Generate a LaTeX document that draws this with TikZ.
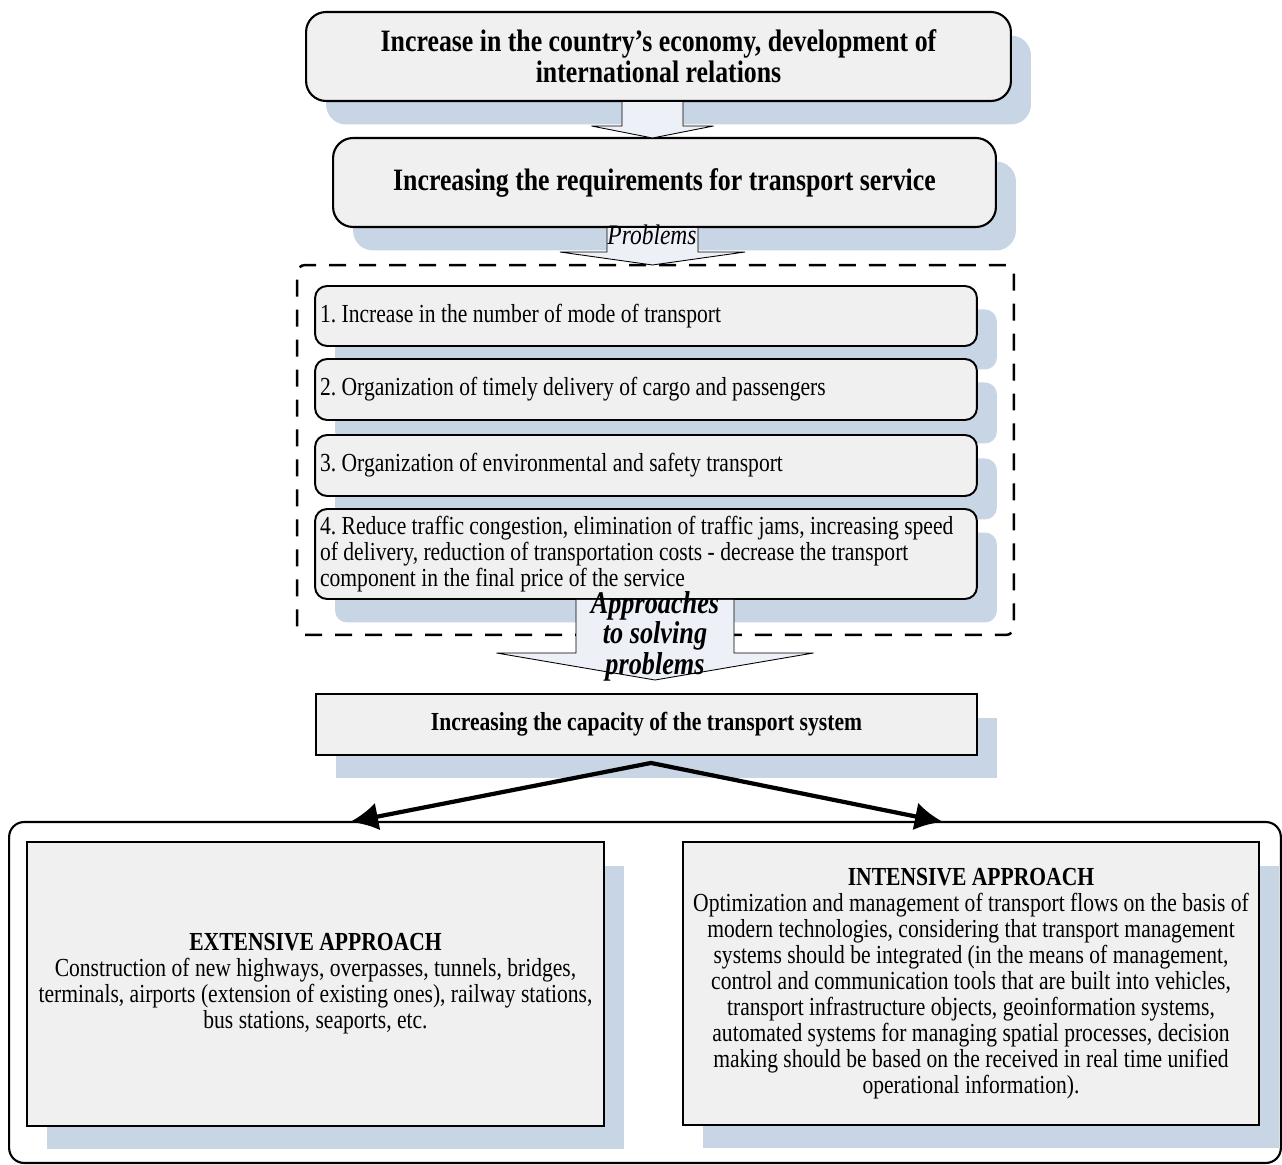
\documentclass[tikz,border=0pt]{standalone}
\usepackage{fontspec}
\setmainfont{Liberation Serif}[FakeStretch=0.83]
\usetikzlibrary{arrows.meta,shadows}

\definecolor{boxfill}{RGB}{240,240,240}
\definecolor{shade}{RGB}{200,213,229}
\definecolor{arrowfill}{RGB}{237,241,247}

\newcommand{\normtext}{\fontsize{14.8}{14.8}\selectfont\frenchspacing}
\newcommand{\titletext}{\fontsize{17.7}{17.6}\selectfont\bfseries}

\begin{document}
\begin{tikzpicture}[x=0.02cm, y=-0.02cm,
	shadowed/.style={drop shadow={shadow xshift=0.4cm, shadow yshift=-0.47cm, fill=shade, opacity=1}},
	roundbox/.style={draw, line width=1.2pt, fill=boxfill, rounded corners=0.4cm, shadowed, align=center, font=\titletext},
	itembox/.style={draw, line width=1.1pt, fill=boxfill, rounded corners=0.24cm, shadowed, text width=13.04cm, inner sep=0.1cm, align=flush left, font=\normtext},
	flatbox/.style={draw, line width=1.1pt, fill=boxfill, shadowed, align=center, font=\normtext},
	blockarrow/.style={draw, line width=0.5pt, fill=arrowfill, line join=miter},
	bigarrow/.style={{Latex[length=0.56cm,width=0.56cm]}-{Latex[length=0.56cm,width=0.56cm]}, line width=2.4pt}
]

% Just a workaround to keep the page as large as the original
\useasboundingbox (0,0) rectangle (1282,1165);

% Top boxes
\node[roundbox, minimum width=14.1cm, minimum height=1.78cm]
	(econ) at (658.5,56.5) {Increase in the country's economy, development of\\international relations};
\node[roundbox, minimum width=13.26cm, minimum height=1.78cm]
	(req) at (664.5,182.5) {Increasing the requirements for transport service};

% Problems
\node[draw, line width=1.4pt, dash pattern=on 0.34cm off 0.26cm, rounded corners=0.16cm,
	minimum width=14.34cm, minimum height=7.4cm] (probs) at (655.5,450) {};

\newcommand{\pbox}[4]{
	\node[itembox, minimum height=#3] (#1) at (646,#2) {#4};
}
\pbox {p1} {316}   {1.2cm}  {1. Increase in the number of mode of transport}
\pbox {p2} {389.5} {1.22cm} {2. Organization of timely delivery of cargo and passengers}
\pbox {p3} {465.5} {1.22cm} {3. Organization of environmental and safety transport}
\pbox {p4} {554}   {1.8cm}  {4. Reduce traffic congestion, elimination of traffic jams, increasing speed\\of delivery, reduction of transportation costs - decrease the transport\\component in the final price of the service}

% Capacity and the two approaches
\node[flatbox, font=\normtext\bfseries, minimum width=13.22cm, minimum height=1.22cm]
	(cap) at (646.5,724.5) {Increasing the capacity of the transport system};

\node[draw, line width=1.2pt, rounded corners=0.3cm, minimum width=25.44cm, minimum height=6.82cm]
	(outer) at (645,992.5) {};

\node[flatbox, minimum width=11.54cm, minimum height=5.68cm] (ext) at (315.5,984)
	{\textbf{EXTENSIVE APPROACH}\\Construction of new highways, overpasses, tunnels, bridges,\\terminals, airports (extension of existing ones), railway stations,\\bus stations, seaports, etc.};
\node[flatbox, minimum width=11.52cm, minimum height=5.66cm] (inten) at (971,983.5)
	{\textbf{INTENSIVE APPROACH}\\Optimization and management of transport flows on the basis of\\modern technologies, considering that transport management\\systems should be integrated (in the means of management,\\control and communication tools that are built into vehicles,\\transport infrastructure objects, geoinformation systems,\\automated systems for managing spatial processes, decision\\making should be based on the received in real time unified\\operational information).};

% Block arrows: from, centre x, neck y, tip y, half shaft, half head
\newcommand{\barrow}[6]{
	\draw[blockarrow] (#2-#5,0 |- #1.south) -- (#2-#5,#3) -- (#2-#6,#3) -- (#2,#4)
		-- (#2+#6,#3) -- (#2+#5,#3) -- (#2+#5,0 |- #1.south);
}
\barrow {econ} {652.5} {126} {138} {30.5} {61}
\barrow {req}  {652.5} {252} {265} {45.5} {92.5}
\barrow {p4}   {655}   {653} {680} {79}   {158.5}

\node[font=\fontsize{16.1}{16}\selectfont\itshape] (problab) at (652,235) {Problems};
\node[font=\fontsize{18}{15.9}\selectfont\bfseries\itshape, align=center] (applab) at (655,636)
	{Approaches\\to solving\\problems};

% Arrows to the approaches
\coordinate (fork)  at ([xshift=0.09cm,yshift=-0.14cm]cap.south);
\coordinate (extin) at (350,822);
\coordinate (intin) at (943,822);
\draw[bigarrow] (extin) -- (fork) -- (intin);
\end{tikzpicture}
\end{document}
